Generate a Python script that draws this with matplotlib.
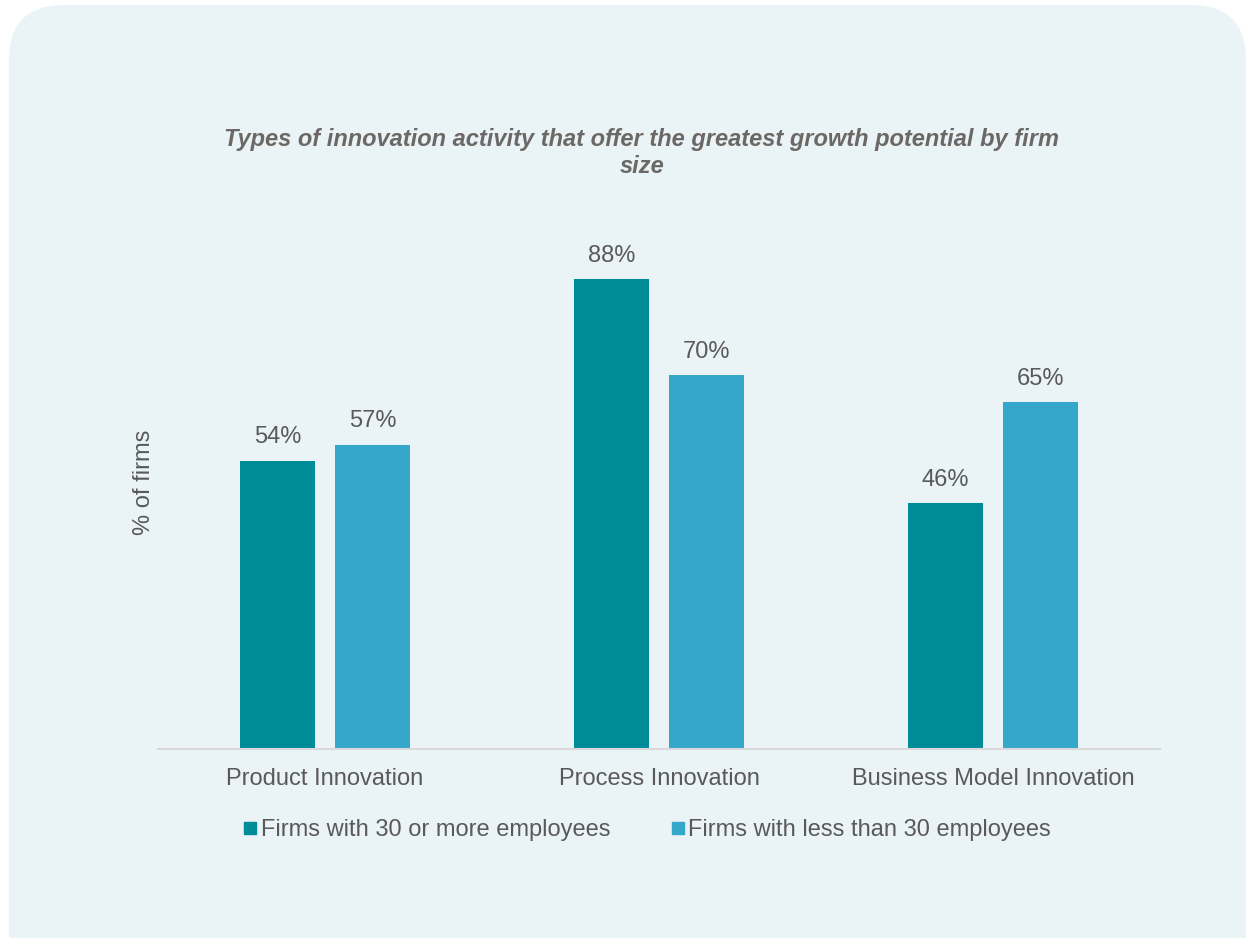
import matplotlib.pyplot as plt
import numpy as np
from matplotlib.patches import FancyBboxPatch
from matplotlib.lines import Line2D

categories = ['Product Innovation', 'Process Innovation', 'Business Model Innovation']
large_firms = [54, 88, 46]
small_firms = [57, 70, 65]
series_names = ['Firms with 30 or more employees', 'Firms with less than 30 employees']

dark = '#008b99'
light = '#35a7cb'
bg = '#eaf4f7'
grey = '#595959'

plt.rcParams['font.family'] = ['Liberation Sans', 'DejaVu Sans']

fig = plt.figure(figsize=(12.55, 9.38), dpi=100)
fig.patch.set_facecolor('white')

# rounded panel behind everything (pixel coords)
panel = FancyBboxPatch((9, -60), 1237, 993, boxstyle='round,pad=0,rounding_size=55',
                       transform=None, facecolor=bg, edgecolor='none', zorder=-5)
fig.patches.append(panel)

ax = fig.add_axes([158 / 1255, (938 - 749) / 938, 1002 / 1255, 534 / 938])
ax.set_facecolor('none')
ax.set_zorder(2)

x = np.arange(len(categories))
w = 0.225
off = 0.142
b1 = ax.bar(x - off, large_firms, w, color=dark, zorder=2)
b2 = ax.bar(x + off, small_firms, w, color=light, zorder=2)

for bars in (b1, b2):
    for r in bars:
        ax.text(r.get_x() + r.get_width() / 2, r.get_height() + 2.3, f'{int(r.get_height())}%',
                ha='center', va='bottom', fontsize=17, color=grey)

ax.set_xlim(-0.5, 2.5)
ax.set_ylim(0, 100)
ax.set_xticks(x)
ax.set_xticklabels(categories, fontsize=17, color=grey)
ax.tick_params(axis='x', length=0, pad=14)
ax.set_yticks([])
for s in ['top', 'right', 'left']:
    ax.spines[s].set_visible(False)
ax.spines['bottom'].set_color('#d9d9d9')
ax.spines['bottom'].set_linewidth(1.5)
ax.set_ylabel('% of firms', fontsize=17, color=grey, labelpad=2.5)

fig.text(642 / 1255, 1 - 153 / 938,
         'Types of innovation activity that offer the greatest growth potential by firm\nsize',
         ha='center', va='center', fontsize=17, fontweight='bold', fontstyle='italic',
         color='#6b6865', linespacing=1.2)

handles = [Line2D([], [], marker='s', linestyle='none', markersize=8, color=c)
           for c in (dark, light)]
fig.legend(handles, series_names, loc='center', bbox_to_anchor=(646 / 1255, 1 - 830 / 938),
           ncol=2, frameon=False, fontsize=17, labelcolor=grey,
           handletextpad=0.05, columnspacing=2.45, handlelength=0.8)

fig.savefig('out.png', dpi=100, facecolor='white')
